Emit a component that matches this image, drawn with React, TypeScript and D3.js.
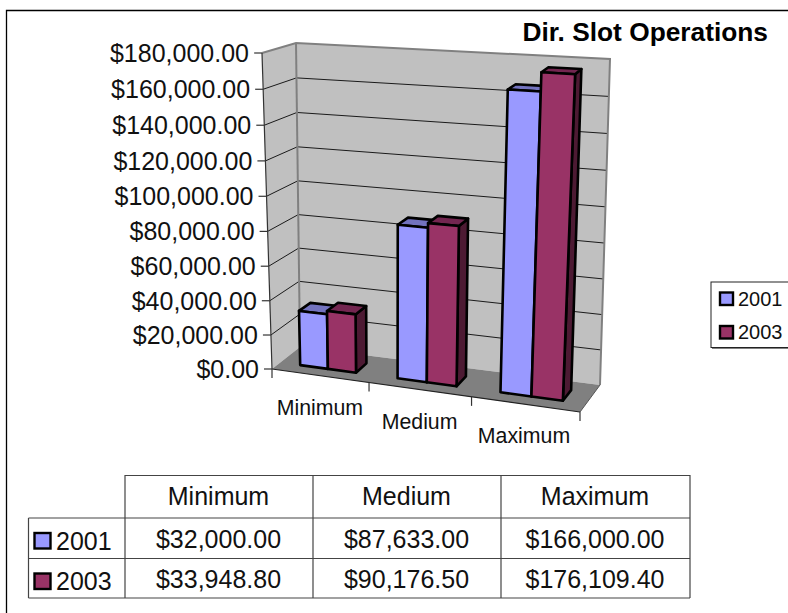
import React from "react";
import * as d3 from "d3";

const categories = ["Minimum", "Medium", "Maximum"];
const seriesNames = ["2001", "2003"];
const values2001 = [32000, 87633, 166000];
const values2003 = [33948.8, 90176.5, 176109.4];
const seriesValues = [values2001, values2003];
const axisTicks = [0, 20000, 40000, 60000, 80000, 100000, 120000, 140000, 160000, 180000];
const labels2001 = ["$32,000.00", "$87,633.00", "$166,000.00"];
const labels2003 = ["$33,948.80", "$90,176.50", "$176,109.40"];
const tableLabels = [labels2001, labels2003];

const front = ["#9999FF", "#993366"];
const topFace = ["#7373BF", "#732650"];
const sideFace = ["#4D4D80", "#4D1A33"];

type Pt = [number, number];
const FL0: Pt = [272, 369], FR0: Pt = [580, 412], BL0: Pt = [300, 347], BR0: Pt = [600, 385];
const FL1: Pt = [262, 53], FR1: Pt = [596, 72], BL1: Pt = [296, 43], BR1: Pt = [610, 59];

const mix = (a: Pt, b: Pt, t: number): Pt => [a[0] + (b[0] - a[0]) * t, a[1] + (b[1] - a[1]) * t];
const K = 1.087, M = 1.037;
const persp = (u: number) => u / (u + K * (1 - u));
const vpersp = (v: number) => v / (v + M * (1 - v));

const yScale = d3.scaleLinear().domain([0, 180000]).range([0, 1]);
const xScale = d3.scaleBand<string>().domain(categories).range([0, 1]).paddingInner(0.42).paddingOuter(0.21);
const sScale = d3.scaleBand<string>().domain(seriesNames).range([0, xScale.bandwidth()]);

function P(u: number, d: number, val: number): Pt {
  const t = persp(u);
  const floor = mix(mix(FL0, FR0, t), mix(BL0, BR0, t), d);
  const top = mix(mix(FL1, FR1, t), mix(BL1, BR1, t), d);
  return mix(floor, top, vpersp(yScale(val)));
}
const poly = (pts: Pt[]) => d3.line()(pts)! + "Z";
const seg = (a: Pt, b: Pt) => d3.line()([a, b])!;
const D0 = 0.3, D1 = 0.7;
const font = "'Liberation Sans', Arial, sans-serif";

const colX = [125, 313, 501, 690];
const catLabelShift = [0, 0, -1];

export default function App() {
  return (
    <svg width={788} height={613} style={{ position: "absolute", left: 0, top: 0, background: "#fff" }} fontFamily={font}>
      <path d="M6.5 613V10.5H788" fill="none" stroke="#000" strokeWidth={1.3} />
      <text x={768} y={41} textAnchor="end" fontSize={26.3} fontWeight="bold">Dir. Slot Operations</text>

      {/* walls and floor */}
      <path d={poly([FL0, BL0, BL1, FL1])} fill="#C0C0C0" />
      <path d={poly([BL0, BR0, BR1, BL1])} fill="#C0C0C0" />
      <path d={poly([FL0, FR0, BR0, BL0])} fill="#808080" />
      {axisTicks.slice(1, -1).map(v => (
        <path key={v} d={d3.line()([P(0, 0, v), P(0, 1, v), P(1, 1, v)])!} fill="none" stroke="#1a1a1a" strokeWidth={1} />
      ))}
      <path d={d3.line()([FL1, BL1, BR1, BR0])!} fill="none" stroke="#808080" strokeWidth={2} />
      <path d={seg(BL0, BL1)} stroke="#808080" strokeWidth={2} />
      <path d={seg(BR0, FR0)} stroke="#555" strokeWidth={1} />

      {/* bars */}
      {categories.map((c, i) =>
        seriesNames.map((s, j) => {
          const v = seriesValues[j][i];
          const u0 = xScale(c)! + sScale(s)!;
          const u1 = u0 + sScale.bandwidth();
          const a = P(u0, D0, 0), b = P(u1, D0, 0), c2 = P(u1, D1, 0);
          const at = P(u0, D0, v), bt = P(u1, D0, v), ct = P(u1, D1, v), dt = P(u0, D1, v);
          return (
            <g key={c + s} stroke="#000" strokeWidth={2.6} strokeLinejoin="round">
              <path d={poly([b, c2, ct, bt])} fill={sideFace[j]} />
              <path d={poly([at, bt, ct, dt])} fill={topFace[j]} />
              <path d={poly([a, b, bt, at])} fill={front[j]} />
            </g>
          );
        })
      )}

      {/* axes */}
      <path d={seg(FL0, FL1)} stroke="#333" strokeWidth={1.2} />
      <path d={seg(FL0, FR0)} stroke="#222" strokeWidth={1.2} />
      {axisTicks.map(v => {
        const p = P(0, 0, v);
        return (
          <g key={v}>
            <path d={seg([p[0] - 8, p[1]], p)} stroke="#333" strokeWidth={1.2} />
            <text x={p[0] - 13} y={p[1] + 9} textAnchor="end" fontSize={25} fill="#111">
              {d3.format("$,.2f")(v)}
            </text>
          </g>
        );
      })}
      {[0, 1, 2, 3].map(k => {
        const p = P(k / 3, 0, 0);
        return <path key={k} d={seg(p, [p[0], p[1] + 9])} stroke="#333" strokeWidth={1.2} />;
      })}
      {categories.map((c, i) => {
        const p = P((i + 0.5) / 3, 0, 0);
        return (
          <text key={c} x={p[0] + catLabelShift[i]} y={p[1] + 39} textAnchor="middle" fontSize={21.3} fill="#111">{c}</text>
        );
      })}

      {/* legend */}
      <rect x={712} y={283} width={80} height={66} fill="#808080" />
      <rect x={711} y={282} width={80} height={65.5} fill="#fff" stroke="#222" strokeWidth={1} />
      {seriesNames.map((s, j) => (
        <g key={s}>
          <rect x={720} y={292.5 + j * 33.5} width={13} height={12.5} fill={front[j]} stroke="#000" strokeWidth={2.4} />
          <text x={738} y={306 + j * 33} fontSize={20} fill="#111">{s}</text>
        </g>
      ))}

      {/* data table */}
      <g stroke="#444" strokeWidth={1.2} fill="none">
        <path d="M125 475.5H690" />
        <path d="M28.5 518H690" />
        <path d="M28.5 558.5H690" />
        <path d="M28.5 598H690" />
        <path d="M28.5 518V598" />
        {colX.map(x => <path key={x} d={`M${x} 475V598`} />)}
      </g>
      {categories.map((c, i) => {
        const cx = (colX[i] + colX[i + 1]) / 2 - 0.5;
        return (
          <g key={c} fontSize={25} textAnchor="middle" fill="#111">
            <text x={cx} y={505}>{c}</text>
            {tableLabels.map((row, j) => (
              <text key={j} x={cx} y={548 + j * 40}>{row[i]}</text>
            ))}
          </g>
        );
      })}
      {seriesNames.map((s, j) => (
        <g key={s}>
          <rect x={34.5} y={533 + j * 40.5} width={16} height={15.5} fill={front[j]} stroke="#000" strokeWidth={2.4} />
          <text x={56} y={550 + j * 40} fontSize={25} fill="#111">{s}</text>
        </g>
      ))}
    </svg>
  );
}
